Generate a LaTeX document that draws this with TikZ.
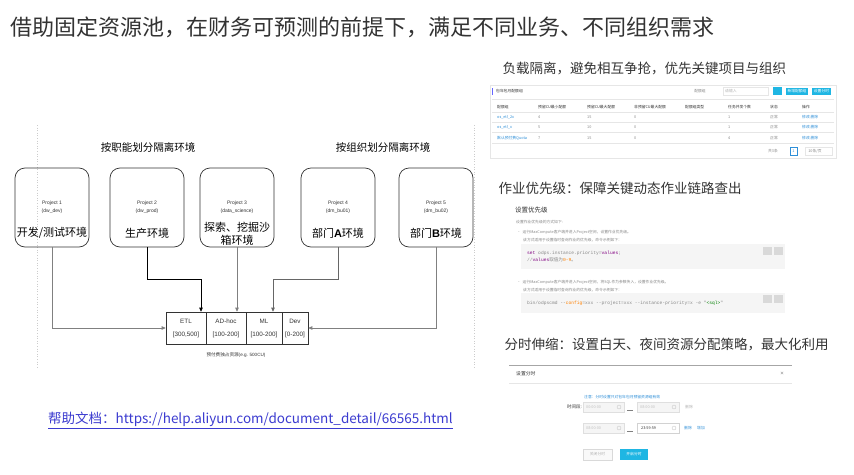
\documentclass[tikz,border=0pt]{standalone}
\usepackage{fontspec}
\setmainfont{Noto Sans CJK SC}
\newfontfamily\cjkf{Noto Sans CJK SC}
\newfontfamily\lat{Liberation Sans}
\newfontfamily\mono{Liberation Mono}
\usetikzlibrary{arrows.meta}
\definecolor{txt}{HTML}{333333}
\definecolor{lnk}{HTML}{3B3BD0}
\definecolor{cy}{HTML}{1FB6E3}
\definecolor{lb}{HTML}{2E8FD8}
\definecolor{gl}{HTML}{E6E6E6}
\definecolor{gt}{HTML}{888888}
\begin{document}
\begin{tikzpicture}[x=1pt,y=-1pt,
  projbox/.style={draw=txt,line width=0.7pt,rounded corners=10pt,minimum width=74pt,minimum height=79pt,inner sep=0pt},
  cell/.style={draw=txt,line width=0.6pt,minimum height=32pt,inner sep=0pt,align=center,font=\lat\fontsize{6.3}{13}\selectfont,text=txt},
  conn/.style={line width=0.7pt,-{Triangle[length=4pt,width=3.5pt]}},
  small/.style={font=\lat\fontsize{5}{8}\selectfont,text=txt,align=center},
  big/.style={font=\fontsize{11}{13}\selectfont,text=black,align=center},
  sect/.style={font=\fontsize{10.5}{12}\selectfont,text=black},
  head/.style={font=\fontsize{13.5}{16}\selectfont,text=txt,anchor=west},
  tiny/.style={font=\fontsize{3.8}{5}\selectfont,text=gt,anchor=west,inner sep=0pt},
  tinyc/.style={font=\fontsize{3.8}{5}\selectfont,text=gt,inner sep=0pt},
  code/.style={font=\mono\fontsize{4.6}{6}\selectfont,text=gt,anchor=west,inner sep=0pt}]
\useasboundingbox (0,0) rectangle (854,474);
\fill[white] (0,0) rectangle (854,474);

% title
\node[font=\fontsize{22}{26}\selectfont,text=txt,anchor=west,inner sep=0pt] (title) at (10,27) {借助固定资源池，在财务可预测的前提下，满足不同业务、不同组织需求};

% dotted guides
\draw[gray!40,dotted,line width=0.6pt] (37,125) -- (37,367);
\draw[gray!40,dotted,line width=0.6pt] (474,125) -- (474,367);

\node[sect] (s1) at (148,147) {按职能划分隔离环境};
\node[sect] (s2) at (383,147) {按组织划分隔离环境};

% project boxes
\node[projbox] (p1) at (52,207.5) {};
\node[projbox] (p2) at (147,207.5) {};
\node[projbox] (p3) at (237,207.5) {};
\node[projbox] (p4) at (338,207.5) {};
\node[projbox] (p5) at (436,207.5) {};

\node[small] (t1) at (52,207) {Project 1\\(dw\_dev)};
\node[small] (t2) at (147,207) {Project 2\\(dw\_prod)};
\node[small] (t3) at (237,207) {Project 3\\(data\_science)};
\node[small] (t4) at (338,207) {Project 4\\(dm\_bu01)};
\node[small] (t5) at (436,207) {Project 5\\(dm\_bu02)};

\node[big] (l1) at (52,233) {开发/测试环境};
\node[big] (l2) at (147,233) {生产环境};
\node[big] (l3) at (237,233.5) {探索、挖掘沙\\箱环境};
\node[big] (l4) at (338,233) {部门{\lat\bfseries A}环境};
\node[big] (l5) at (436,233) {部门{\lat\bfseries B}环境};

% pool
\node[cell,minimum width=40pt] (etl) at (186,328) {ETL\\{}[300,500]};
\node[cell,minimum width=40pt] (adhoc) at (226,328) {AD-hoc\\{}[100-200]};
\node[cell,minimum width=36pt] (ml) at (264,328) {ML\\{}[100-200]};
\node[cell,minimum width=26pt] (dev) at (295,328) {Dev\\{}[0-200]};
\node[font=\fontsize{4.6}{6}\selectfont,text=txt] (cap) at (236,355) {预付费独占资源{\lat(e.g. 500CU)}};

% connectors
\coordinate (a2) at (201,279);
\coordinate (a4) at (273,279);
\draw[conn,gray] (p1.south) |- (etl.west);
\draw[conn,black] (p2.south) |- (a2) -- (a2 |- etl.north);
\draw[conn,gray] (p3.south) -- (p3.south |- adhoc.north);
\draw[conn,gray!80!black] (p4.south) |- (a4) -- (a4 |- ml.north);
\draw[conn,gray] (p5.south) |- (dev.east);

% help link
\node[font=\fontsize{13.5}{16}\selectfont,text=lnk,anchor=west,inner sep=0pt] (help) at (48,419) {帮助文档：https://help.aliyun.com/document\_detail/66565.html};
\draw[lnk,line width=0.6pt] ([yshift=-1.5pt]help.south west) -- ([yshift=-1.5pt]help.south east);

% ---------- right column ----------
\node[head] (h1) at (499,68) {负载隔离，避免相互争抢，优先关键项目与组织};
\node[head] (h2) at (495,188) {作业优先级：保障关键动态作业链路查出};
\node[head] (h3) at (501,345) {分时伸缩：设置白天、夜间资源分配策略，最大化利用};

% screenshot 1
\draw[gl,line width=0.5pt] (490,85) rectangle (836,158);
\fill[blue!60] (491.5,88) rectangle (493,95);
\node[tiny,text=txt] at (496,91.5) {包年包月配额组};
\node[tinyc] at (700,91.5) {配额组};
\draw[gl] (723,87.5) rectangle (768,95);
\node[tiny,text=gray!60] at (725,91.5) {请输入};
\fill[cy] (773,87) rectangle (782,95);
\fill[cy] (786,88) rectangle (808,95);
\node[tinyc,text=white] at (797,91.5) {新增配额组};
\fill[cy] (812,88) rectangle (831,95);
\node[tinyc,text=white] at (821.5,91.5) {设置分时};
\draw[gl,line width=0.4pt] (492,99) -- (834,99);
\foreach \x/\t in {497/配额组,538/预留CU最小配额,587/预留CU最大配额,634/非预留CU最大配额,685/配额组类型,728/任务并发个数,770/状态,802/操作}
  \node[tiny,text=txt] at (\x,107) {\t};
\foreach \yy in {112,122,132,143} \draw[gl,line width=0.3pt] (492,\yy) -- (834,\yy);
\foreach \yy/\a/\b/\c/\d/\e in {117/os\_etl\_2x/4/15/0/1,127/os\_etl\_x/5/10/0/1,138/默认预付费Quota/7/15/0/4}{
  \node[tiny,text=lb] at (497,\yy) {\a};
  \node[tiny] at (538,\yy) {\b};
  \node[tiny] at (587,\yy) {\c};
  \node[tiny] at (634,\yy) {\d};
  \node[tiny] at (728,\yy) {\e};
  \node[tiny] at (770,\yy) {正常};
  \node[tiny,text=lb] at (802,\yy) {修改\ 删除};
}
\node[tinyc] at (773,151) {共3条};
\draw[lb,line width=0.4pt] (790,147) rectangle (797,155);
\node[tinyc,text=lb] at (793.5,151) {1};
\draw[gl] (805,147) rectangle (832,155);
\node[tinyc] at (815,151) {10条/页};

% screenshot 2
\node[font=\fontsize{6.5}{8}\selectfont,text=txt,anchor=west,inner sep=0pt] at (515,210) {设置优先级};
\node[tiny] at (516,222) {设置作业优先级的方式如下:};
\node[tiny] at (517,232) {•\ \ 运行MaxCompute客户端并进入Project空间，设置作业优先级。};
\node[tiny] at (523,240) {该方式适用于设置临时查询作业的优先级，命令示例如下：};
\fill[gray!8] (521,244) rectangle (785,269);
\fill[gray!30] (763,247) rectangle (772,255);
\fill[gray!30] (774,247) rectangle (783,255);
\node[code] at (527,253) {{\color{violet}set} odps.instance.priority={\color{violet}values};};
\node[code] at (527,260) {//{\color{violet}values}{\cjkf 取值为}{\color{orange}0-9}{\cjkf 。}};
\node[tiny] at (517,282) {•\ \ 运行MaxCompute客户端并进入Project空间，将SQL作为参数传入，设置作业优先级。};
\node[tiny] at (523,290) {该方式适用于设置临时查询作业的优先级，命令示例如下：};
\fill[gray!8] (521,293) rectangle (785,313);
\fill[gray!30] (763,295) rectangle (772,303);
\fill[gray!30] (774,295) rectangle (783,303);
\node[code] at (527,303) {bin/odpscmd --{\color{orange}config}=xxx --project=xxx --instance-priority=x -e "{\color{green!50!black}<sql>}"};

% screenshot 3
\draw[gray!70,line width=0.6pt] (509,365) -- (792,365);
\node[font=\fontsize{4.8}{6}\selectfont,text=txt,anchor=west,inner sep=0pt] at (516,374) {设置分时};
\node[font=\lat\fontsize{6}{7}\selectfont,text=gray] at (782,374) {×};
\draw[gl,line width=0.3pt] (509,383) -- (792,383);
\node[tiny,text=lb] at (584,397) {注意：分时设置只对包年包月预留资源组有效};
\node[font=\fontsize{4.5}{6}\selectfont,text=txt,anchor=east,inner sep=0pt] at (582,407) {时间段:};
\filldraw[fill=gray!8,draw=gray!25,line width=0.4pt] (583,402) rectangle (624,412);
\filldraw[fill=gray!8,draw=gray!25,line width=0.4pt] (637,402) rectangle (679,412);
\node[tiny,text=gray!50] at (586,407) {00:00:00};
\node[tiny,text=gray!50] at (640,407) {08:00:00};
\draw[gray!50,line width=0.3pt] (619,407) circle (2pt) (674,407) circle (2pt);
\draw[gray,line width=0.4pt] (627,410) -- (633,410);
\node[tiny,text=gray!60] at (685,407) {删除};
\filldraw[fill=gray!8,draw=gray!25,line width=0.4pt] (583,423) rectangle (624,433);
\filldraw[fill=white,draw=gray!35,line width=0.4pt] (637,423) rectangle (679,433);
\node[tiny,text=gray!50] at (586,428) {08:00:00};
\node[tiny,text=txt] at (641,428) {23:59:59};
\draw[gray!50,line width=0.3pt] (619,428) circle (2pt) (674,428) circle (2pt);
\draw[gray,line width=0.4pt] (627,431) -- (633,431);
\node[tiny,text=lb] at (684,428) {删除};
\node[tiny,text=lb] at (697,428) {增加};
\filldraw[fill=gray!5,draw=gray!30,line width=0.4pt] (583,449) rectangle (612,460);
\node[tinyc,text=gray!60] at (597.5,454.5) {关闭分时};
\fill[cy] (620,449) rectangle (648,460);
\node[tinyc,text=white] at (634,454.5) {开启分时};
\end{tikzpicture}
\end{document}
